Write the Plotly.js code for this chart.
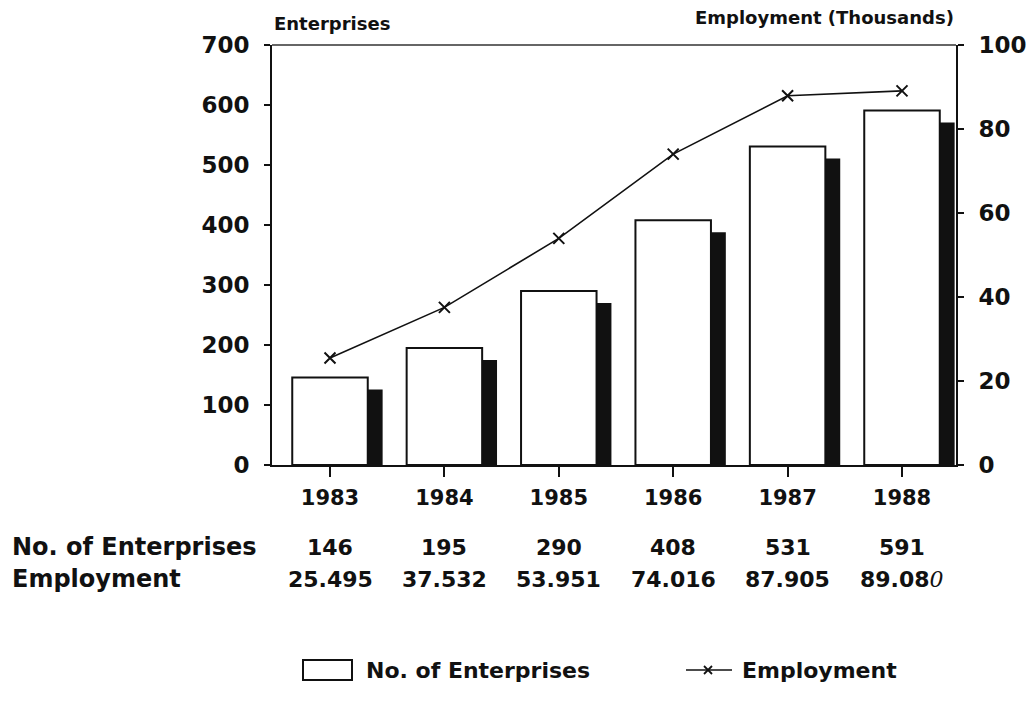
<!DOCTYPE html>
<html>
<head>
<meta charset="utf-8">
<script src="https://cdn.plot.ly/plotly-3.0.1.min.js"></script>
<style>
  html, body { margin: 0; padding: 0; background: #fff; }
  #chart { width: 1036px; height: 702px; }
</style>
</head>
<body>
<div id="chart"></div>
<script>
// ---- data ----
const years = ['1983', '1984', '1985', '1986', '1987', '1988'];
const enterprises = [146, 195, 290, 408, 531, 591];
const employment = [25.495, 37.532, 53.951, 74.016, 87.905, 89.080];
const enterpriseTicks = [0, 100, 200, 300, 400, 500, 600, 700];
const employmentTicks = [0, 20, 40, 60, 80, 100];
const seriesNames = ['No. of Enterprises', 'Employment'];

// ---- style ----
const FONT = 'DejaVu Sans, Liberation Sans, Arial, sans-serif';
const INK = '#111';
const SHADOW_DEPTH = 20; // visual depth of the 3-D shadow, in enterprise units
const shadowValues = enterprises.map(v => v - SHADOW_DEPTH);

// plot-area geometry (px) used to place the hand-drawn legend in paper units
const PLOT_L = 272, PLOT_W = 684, PLOT_B = 465, PLOT_H = 420;
const px2x = px => (px - PLOT_L) / PLOT_W;
const px2y = py => (PLOT_B - py) / PLOT_H;

const traces = [
  {
    type: 'bar', x: years, y: shadowValues, base: 0,
    width: 0.13, offset: 0.33,
    marker: { color: INK, line: { width: 0 } },
    showlegend: false, hoverinfo: 'skip', yaxis: 'y'
  },
  {
    type: 'bar', name: seriesNames[0], x: years, y: enterprises,
    width: 0.66, offset: -0.33,
    marker: { color: '#ffffff', line: { color: INK, width: 2 } },
    yaxis: 'y', showlegend: false
  },
  {
    type: 'scatter', mode: 'lines+markers', name: seriesNames[1],
    x: years, y: employment, yaxis: 'y2',
    line: { color: INK, width: 1.6 },
    marker: { symbol: 'x-thin', size: 11, line: { color: INK, width: 2 } },
    showlegend: false
  }
];

function fmt(v) { return v.toFixed(3); }
const ROW1 = -82, ROW2 = -114;
const LEG_Y = 670;
const annotations = [
  { xref: 'paper', yref: 'paper', x: 0, y: 1, yshift: 22, xanchor: 'left', yanchor: 'middle',
    text: 'Enterprises', showarrow: false, font: { family: FONT, size: 18, weight: 'bold', color: INK } },
  { xref: 'paper', yref: 'paper', x: 1, y: 1, yshift: 28, xanchor: 'right', yanchor: 'middle',
    text: 'Employment (Thousands)', showarrow: false, font: { family: FONT, size: 18, weight: 'bold', color: INK } },
  { xref: 'paper', yref: 'paper', x: px2x(10), y: 0, yshift: ROW1, xanchor: 'left', yanchor: 'middle',
    text: seriesNames[0], showarrow: false, font: { family: FONT, size: 24, weight: 'bold', color: INK } },
  { xref: 'paper', yref: 'paper', x: px2x(10), y: 0, yshift: ROW2, xanchor: 'left', yanchor: 'middle',
    text: seriesNames[1], showarrow: false, font: { family: FONT, size: 24, weight: 'bold', color: INK } },
  // legend labels
  { xref: 'paper', yref: 'paper', x: px2x(364), y: px2y(LEG_Y), xanchor: 'left', yanchor: 'middle',
    text: seriesNames[0], showarrow: false, font: { family: FONT, size: 22, weight: 'bold', color: INK } },
  { xref: 'paper', yref: 'paper', x: px2x(740), y: px2y(LEG_Y), xanchor: 'left', yanchor: 'middle',
    text: seriesNames[1], showarrow: false, font: { family: FONT, size: 22, weight: 'bold', color: INK } }
];
years.forEach((yr, i) => {
  annotations.push({
    xref: 'x', yref: 'paper', x: i, y: 0, yshift: ROW1, xanchor: 'center', yanchor: 'middle',
    text: String(enterprises[i]), showarrow: false,
    font: { family: FONT, size: 22, weight: 'bold', color: INK }
  });
  let t = fmt(employment[i]);
  if (i === years.length - 1) {
    t = t.slice(0, -1) + "<span style='font-family:DejaVu Serif;font-weight:normal;font-style:italic'>" + t.slice(-1) + "</span>";
  }
  annotations.push({
    xref: 'x', yref: 'paper', x: i, y: 0, yshift: ROW2, xanchor: 'center', yanchor: 'middle',
    text: t, showarrow: false,
    font: { family: FONT, size: 22, weight: 'bold', color: INK }
  });
});

const shapes = [
  // top frame line
  { type: 'line', xref: 'paper', yref: 'paper', x0: 0, x1: 1, y0: 1, y1: 1,
    line: { color: '#333', width: 1.5 } },
  // legend: bar key (open box)
  { type: 'rect', xref: 'paper', yref: 'paper', x0: px2x(303), x1: px2x(352),
    y0: px2y(LEG_Y - 10), y1: px2y(LEG_Y + 10), fillcolor: '#fff',
    line: { color: INK, width: 2 } },
  // legend: line key
  { type: 'line', xref: 'paper', yref: 'paper', x0: px2x(686), x1: px2x(732),
    y0: px2y(LEG_Y), y1: px2y(LEG_Y), line: { color: INK, width: 1.6 } },
  { type: 'line', xref: 'paper', yref: 'paper', x0: px2x(704), x1: px2x(712),
    y0: px2y(LEG_Y - 4), y1: px2y(LEG_Y + 4), line: { color: INK, width: 1.8 } },
  { type: 'line', xref: 'paper', yref: 'paper', x0: px2x(704), x1: px2x(712),
    y0: px2y(LEG_Y + 4), y1: px2y(LEG_Y - 4), line: { color: INK, width: 1.8 } }
];

const layout = {
  width: 1036, height: 702,
  margin: { l: 272, r: 80, t: 45, b: 237, pad: 0, autoexpand: false },
  paper_bgcolor: '#fff', plot_bgcolor: '#fff',
  barmode: 'overlay',
  font: { family: FONT, color: INK },
  showlegend: false,
  xaxis: {
    type: 'category', range: [-0.507, 5.472],
    showgrid: false, zeroline: false,
    showline: true, linecolor: INK, linewidth: 2,
    ticks: 'outside', ticklen: 10, tickwidth: 2, tickcolor: INK,
    ticklabelstandoff: 3,
    tickfont: { family: FONT, size: 21, weight: 'bold', color: INK }
  },
  yaxis: {
    range: [0, 700], tickvals: enterpriseTicks,
    showgrid: false, zeroline: false,
    showline: true, linecolor: INK, linewidth: 2,
    ticks: 'outside', ticklen: 6, tickwidth: 2, tickcolor: INK,
    ticklabelstandoff: 10,
    tickfont: { family: FONT, size: 23, weight: 'bold', color: INK }
  },
  yaxis2: {
    range: [0, 100], tickvals: employmentTicks, overlaying: 'y', side: 'right',
    showgrid: false, zeroline: false,
    showline: true, linecolor: INK, linewidth: 2,
    ticks: 'outside', ticklen: 6, tickwidth: 2, tickcolor: INK,
    ticklabelstandoff: 10,
    tickfont: { family: FONT, size: 23, weight: 'bold', color: INK }
  },
  shapes: shapes,
  annotations: annotations
};

Plotly.newPlot('chart', traces, layout, { displayModeBar: false, staticPlot: true });
</script>
</body>
</html>
